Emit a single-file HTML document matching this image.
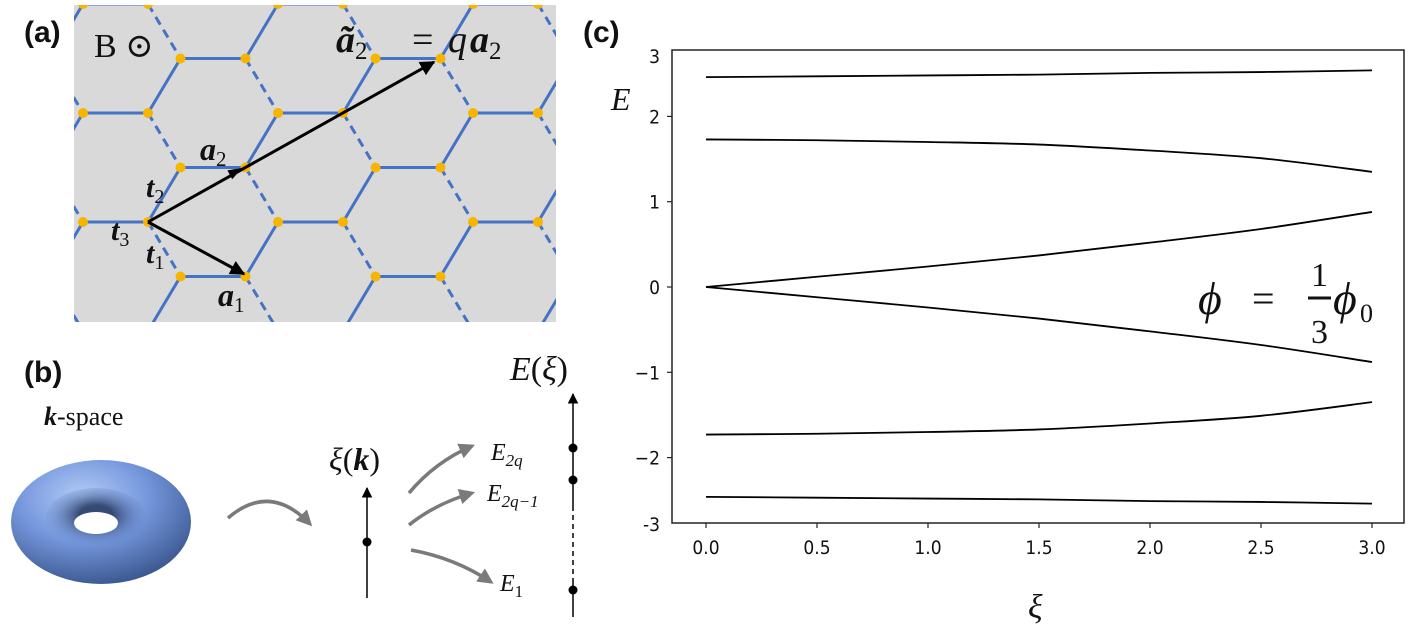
<!DOCTYPE html>
<html><head><meta charset="utf-8">
<style>
html,body{margin:0;padding:0;background:#fff;}
svg{display:block;}
.lbl{font-family:"Liberation Sans",sans-serif;font-weight:bold;font-size:30px;fill:#111;}
.ser{font-family:"Liberation Serif","DejaVu Serif",serif;fill:#111;}
.tick{font-family:"DejaVu Sans Condensed","DejaVu Sans","Liberation Sans",sans-serif;font-size:19px;fill:#111;}
</style></head>
<body>
<svg id="fig" width="1412" height="630" viewBox="0 0 1412 630" xmlns="http://www.w3.org/2000/svg">
<defs>
  <clipPath id="latclip"><rect x="74" y="5" width="482" height="317"/></clipPath>
  <radialGradient id="torusG" cx="0.4" cy="0.3" r="0.8">
    <stop offset="0" stop-color="#b3cbf7"/>
    <stop offset="0.45" stop-color="#7597dc"/>
    <stop offset="1" stop-color="#2f4a80"/>
  </radialGradient>
  <radialGradient id="torusIn" cx="0.5" cy="0.45" r="0.55">
    <stop offset="0.3" stop-color="#24375e"/>
    <stop offset="1" stop-color="#6d8fd4" stop-opacity="0"/>
  </radialGradient>
  <marker id="ahB" viewBox="0 0 10 10" refX="9" refY="5" markerWidth="5" markerHeight="5" orient="auto"><path d="M0,0 L10,5 L0,10 z" fill="#000"/></marker>
  <marker id="ahS" viewBox="0 0 10 10" refX="9" refY="5" markerWidth="7" markerHeight="7" orient="auto"><path d="M0,0 L10,5 L0,10 z" fill="#000"/></marker>
  <marker id="ahG" viewBox="0 0 10 10" refX="8" refY="5" markerWidth="4.5" markerHeight="4.5" orient="auto"><path d="M0,0 L10,5 L0,10 z" fill="#7a7a7a"/></marker>
</defs>

<!-- Panel (a) -->
<text class="lbl" x="24" y="42">(a)</text>
<rect x="74" y="5" width="482" height="317" fill="#d9d9d9"/>
<g id="lattice" clip-path="url(#latclip)"></g>
<g>
  <line x1="148" y1="222" x2="244" y2="274" stroke="#000" stroke-width="3" marker-end="url(#ahB)"/>
  <line x1="148" y1="222" x2="434" y2="62" stroke="#000" stroke-width="3" marker-end="url(#ahB)"/>
  <path d="M242,168 L232.2,179.2 L227.4,170.4 z" fill="#000"/>
</g>
<text class="ser" x="94" y="57" font-size="34">B ⊙</text>
<g>
  <text class="ser" x="336" y="52" font-size="38" font-weight="bold" font-style="italic">ã<tspan font-size="25" font-weight="normal" font-style="normal" dy="7">2</tspan></text>
  <text class="ser" x="412" y="52" font-size="38">=</text>
  <text class="ser" x="448" y="52" font-size="38" font-style="italic">q</text>
  <text class="ser" x="470" y="52" font-size="38" font-weight="bold" font-style="italic">a<tspan font-size="25" font-weight="normal" font-style="normal" dy="7">2</tspan></text>
</g>
<text class="ser" x="200" y="160" font-size="32" font-weight="bold" font-style="italic">a<tspan font-size="21" font-weight="normal" font-style="normal" dy="6">2</tspan></text>
<text class="ser" x="146" y="197" font-size="30" font-weight="bold" font-style="italic">t<tspan font-size="20" font-weight="normal" font-style="normal" dy="6">2</tspan></text>
<text class="ser" x="111" y="240" font-size="30" font-weight="bold" font-style="italic">t<tspan font-size="20" font-weight="normal" font-style="normal" dy="6">3</tspan></text>
<text class="ser" x="146" y="263" font-size="30" font-weight="bold" font-style="italic">t<tspan font-size="20" font-weight="normal" font-style="normal" dy="6">1</tspan></text>
<text class="ser" x="218" y="306" font-size="32" font-weight="bold" font-style="italic">a<tspan font-size="21" font-weight="normal" font-style="normal" dy="6">1</tspan></text>

<!-- Panel (b) -->
<text class="lbl" x="24" y="382">(b)</text>
<text class="ser" x="44" y="425" font-size="26"><tspan font-weight="bold" font-style="italic">k</tspan>-space</text>
<g>
  <ellipse cx="101" cy="522" rx="90" ry="62" fill="url(#torusG)"/>
  <ellipse cx="96" cy="518" rx="50" ry="30" fill="url(#torusIn)" opacity="0.85"/>
  <ellipse cx="96" cy="523" rx="22" ry="11" fill="#fff"/>
</g>
<path d="M228,518 Q270,482 310,524" fill="none" stroke="#7a7a7a" stroke-width="3.5" marker-end="url(#ahG)"/>
<line x1="367" y1="598" x2="367" y2="488" stroke="#000" stroke-width="1.5" marker-end="url(#ahS)"/>
<circle cx="367" cy="542" r="4.5" fill="#000"/>
<text class="ser" x="329" y="470" font-size="32"><tspan font-style="italic">ξ</tspan>(<tspan font-weight="bold" font-style="italic">k</tspan>)</text>
<path d="M409,493 Q435,462 472,446" fill="none" stroke="#7a7a7a" stroke-width="3.5" marker-end="url(#ahG)"/>
<path d="M409,525 Q435,504 472,493" fill="none" stroke="#7a7a7a" stroke-width="3.5" marker-end="url(#ahG)"/>
<path d="M411,550 Q455,558 491,582" fill="none" stroke="#7a7a7a" stroke-width="3.5" marker-end="url(#ahG)"/>
<text class="ser" x="491" y="460" font-size="24" font-style="italic">E<tspan font-size="17" dy="6">2q</tspan></text>
<text class="ser" x="487" y="501" font-size="24" font-style="italic">E<tspan font-size="17" dy="6">2q−1</tspan></text>
<text class="ser" x="500" y="591" font-size="24" font-style="italic">E<tspan font-size="17" font-style="normal" dy="6">1</tspan></text>
<g>
  <line x1="573" y1="617" x2="573" y2="583" stroke="#000" stroke-width="1.5"/>
  <line x1="573" y1="583" x2="573" y2="507" stroke="#000" stroke-width="1.5" stroke-dasharray="5,4"/>
  <line x1="573" y1="507" x2="573" y2="394" stroke="#000" stroke-width="1.5" marker-end="url(#ahS)"/>
  <circle cx="573" cy="448" r="4.5" fill="#000"/>
  <circle cx="573" cy="480" r="4.5" fill="#000"/>
  <circle cx="573" cy="590" r="4.5" fill="#000"/>
</g>
<text class="ser" x="510" y="380" font-size="34"><tspan font-style="italic">E</tspan>(<tspan font-style="italic">ξ</tspan>)</text>

<!-- Panel (c) -->
<text class="lbl" x="583" y="42">(c)</text>
<g id="chart"></g>
<text class="ser" x="611" y="110" font-size="32" font-style="italic">E</text>
<text class="ser" x="1028" y="618" font-size="34" font-style="italic">ξ</text>
<g>
  <text class="ser" x="1198" y="314" font-size="46" font-style="italic">ϕ</text>
  <text class="ser" x="1252" y="312" font-size="40">=</text>
  <text class="ser" x="1311" y="286" font-size="34">1</text>
  <line x1="1308" y1="298" x2="1331" y2="298" stroke="#111" stroke-width="3"/>
  <text class="ser" x="1311" y="343" font-size="34">3</text>
  <text class="ser" x="1333" y="314" font-size="46" font-style="italic">ϕ</text>
  <text class="ser" x="1360" y="322" font-size="26">0</text>
</g>
</svg>
<script>
// ---- lattice (panel a) ----
(function(){
  const NS="http://www.w3.org/2000/svg";
  const g=document.getElementById('lattice');
  const L=65, dy=54.5, y0=222, xE=83, P=195;
  const dots=[];
  function line(x1,y1,x2,y2,dash){
    const l=document.createElementNS(NS,'line');
    l.setAttribute('x1',x1);l.setAttribute('y1',y1);l.setAttribute('x2',x2);l.setAttribute('y2',y2);
    l.setAttribute('stroke','#4472c4');l.setAttribute('stroke-width','3');
    if(dash) l.setAttribute('stroke-dasharray','9,6');
    
    
    g.appendChild(l);
  }
  for(let r=-5;r<=3;r++){
    const y=y0+r*dy, odd=Math.abs(r)%2===1;
    for(let k=-2;k<=4;k++){
      const xl=(odd? xE+P/2 : xE)+k*P, xr=xl+L;
      line(xl,y,xr,y,false);
      dots.push([xl,y],[xr,y]);
      line(xr,y,xr+L/2,y-dy,false);
      line(xr,y,xr+L/2,y+dy,true);
    }
  }
  dots.forEach(d=>{
    const c=document.createElementNS(NS,'circle');
    c.setAttribute('cx',d[0]);c.setAttribute('cy',d[1]);c.setAttribute('r','5');c.setAttribute('fill','#f7b500');
    
    
    g.appendChild(c);
  });
})();
</script>
<script>
// ---- chart data (panel c) ----
const xiValues=[0,0.5,1.0,1.5,2.0,2.5,3.0];
const band1=[2.46,2.47,2.48,2.49,2.51,2.52,2.54];
const band2=[1.73,1.72,1.70,1.67,1.60,1.51,1.35];
const band3=[0,0.12,0.24,0.37,0.52,0.68,0.88];
const band4=[0,-0.12,-0.24,-0.37,-0.52,-0.68,-0.88];
const band5=[-1.73,-1.72,-1.70,-1.67,-1.60,-1.51,-1.35];
const band6=[-2.46,-2.47,-2.48,-2.49,-2.51,-2.52,-2.54];
const xTickValues=[0,0.5,1.0,1.5,2.0,2.5,3.0];
const xTickLabels=["0.0","0.5","1.0","1.5","2.0","2.5","3.0"];
const yTickValues=[2,1,0,-1,-2];
const yTickLabels=["2","1","0","\u22121","\u22122"];

(function(){
  const NS="http://www.w3.org/2000/svg";
  const g=document.getElementById('chart');
  const left=672,right=1404,top=50,bottom=523;
  const xs=v=>706+(v-0)*(1372-706)/3;
  const ys=v=>287-v*85.3;
  function el(tag,attrs){const e=document.createElementNS(NS,tag);for(const k in attrs)e.setAttribute(k,attrs[k]);g.appendChild(e);return e;}
  const frame=el('rect',{x:left,y:top,width:right-left,height:bottom-top,fill:'none',stroke:'#222','stroke-width':1.5});
  
  
  xTickValues.forEach((v,i)=>{
    const t=el('line',{x1:xs(v),y1:bottom,x2:xs(v),y2:bottom+5,stroke:'#222','stroke-width':1.2});
    
    
    const tx=el('text',{x:xs(v),y:bottom+31,'text-anchor':'middle',class:'tick'});
    tx.textContent=xTickLabels[i];
    
    
  });
  yTickValues.forEach((v,i)=>{
    const t=el('line',{x1:left-5,y1:ys(v),x2:left,y2:ys(v),stroke:'#222','stroke-width':1.2});
    
    
    const tx=el('text',{x:left-12,y:ys(v)+7,'text-anchor':'end',class:'tick'});
    tx.textContent=yTickLabels[i];
    
    
  });
  const t3=el('text',{x:left-12,y:63,'text-anchor':'end',class:'tick'});t3.textContent="3";
  
  
  const tm3=el('text',{x:left-12,y:531,'text-anchor':'end',class:'tick'});tm3.textContent="-3";
  
  
  function smooth(pts){
    let d=`M${pts[0][0]},${pts[0][1]}`;
    for(let i=0;i<pts.length-1;i++){
      const p0=pts[Math.max(i-1,0)],p1=pts[i],p2=pts[i+1],p3=pts[Math.min(i+2,pts.length-1)];
      const c1=[p1[0]+(p2[0]-p0[0])/6,p1[1]+(p2[1]-p0[1])/6];
      const c2=[p2[0]-(p3[0]-p1[0])/6,p2[1]-(p3[1]-p1[1])/6];
      d+=` C${c1[0]},${c1[1]} ${c2[0]},${c2[1]} ${p2[0]},${p2[1]}`;
    }
    return d;
  }
  [band1,band2,band3,band4,band5,band6].forEach((b,i)=>{
    const pts=xiValues.map((x,j)=>[xs(x),ys(b[j])]);
    const p=el('path',{d:smooth(pts),fill:'none',stroke:'#000','stroke-width':1.8});
    
    
  });
})();
</script>
</body></html>
